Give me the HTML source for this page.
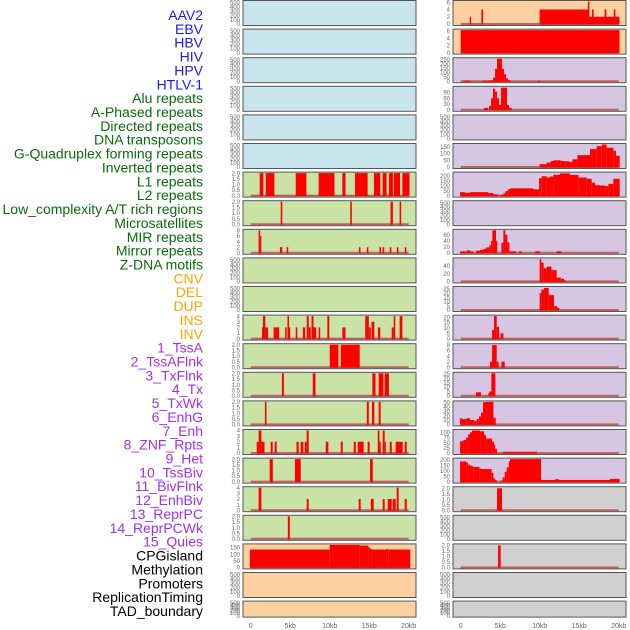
<!DOCTYPE html>
<html><head><meta charset="utf-8"><style>
body{margin:0;background:#fff;width:630px;height:630px;overflow:hidden}
svg{display:block;font-family:"Liberation Sans",sans-serif}
</style></head><body>
<svg id="c" width="630" height="630"></svg>
<script>
const labels=["AAV2","EBV","HBV","HIV","HPV","HTLV-1","Alu repeats","A-Phased repeats","Directed repeats","DNA transposons","G-Quadruplex forming repeats","Inverted repeats","L1 repeats","L2 repeats","Low_complexity A/T rich regions","Microsatellites","MIR repeats","Mirror repeats","Z-DNA motifs","CNV","DEL","DUP","INS","INV","1_TssA","2_TssAFlnk","3_TxFlnk","4_Tx","5_TxWk","6_EnhG","7_Enh","8_ZNF_Rpts","9_Het","10_TssBiv","11_BivFlnk","12_EnhBiv","13_ReprPC","14_ReprPCWk","15_Quies","CPGisland","Methylation","Promoters","ReplicationTiming","TAD_boundary"];
const labelColors=[...Array(6).fill("#1a1aee"),...Array(13).fill("#0a6a0a"),...Array(5).fill("#ffa500"),...Array(15).fill("#a030ee"),...Array(5).fill("#000")];
const xTicks=[0,5,10,15,20];
const xTickLabels=["0","5kb","10kb","15kb","20kb"];
const E=[0,100,200,300,400,500];
const T2=[0,0.5,1,1.5,2],T4=[0,1,2,3,4];
const leftBg=[...Array(6).fill("#c8e4ec"),...Array(13).fill("#c9e2a6"),...Array(3).fill("#fecf9f")];
const rightBg=["#fecf9f","#fecf9f",...Array(15).fill("#d6c6e2"),...Array(5).fill("#d0d0d0")];
const leftYMax=[520,520,520,520,520,520,2,2,8,520,520,4,2,2,2,4,2,4,2,170,520,520];
const leftTicks=[E,E,E,E,E,E,T2,T2,[0,2,4,6,8],E,E,T4,T2,T2,T2,T4,T2,T4,T2,[0,50,100,150],E,E];
const leftBars=[[],[],[],[],[],[],
[[1.14,1.6,2],[1.9,3.0,2],[5.7,7.05,2],[8.6,10.6,2],[11.6,12.0,2],[13.2,14.8,2],[15.6,16.4,2],[16.7,17.2,2],[17.5,18.0,2],[18.1,18.9,2],[19.2,20.1,2]],
[[3.8,4.0,2],[12.6,12.8,2],[17.7,18.0,2],[18.85,19.05,2]],
[[1.0,1.2,8],[1.2,1.35,6],[3.7,4.0,2],[4.55,4.75,2],[13.7,13.9,2],[14.7,14.9,2],[16.3,16.5,2],[16.7,16.9,2],[17.6,17.8,2],[18.5,18.7,2],[19.5,19.7,2]],
[],[],
[[1.43,1.55,2],[1.55,1.85,4],[1.85,2.2,2],[2.9,3.6,2],[4.35,4.55,2],[4.65,4.85,4],[4.85,5.0,2],[5.7,5.9,2],[6.6,6.9,2],[7.1,7.35,4],[7.35,7.6,2],[7.7,7.95,4],[7.95,8.3,2],[8.6,8.8,2],[9.7,9.95,4],[11.6,12.0,2],[14.5,14.95,4],[14.95,15.2,2],[15.3,15.65,3],[16.1,16.4,2],[17.85,18.1,2],[18.1,18.3,4],[18.85,19.2,4]],
[[10.0,11.1,2],[11.4,13.8,2]],
[[3.95,4.2,2],[7.85,8.2,2],[15.4,15.8,2],[16.2,16.8,2],[16.95,17.5,2]],
[[1.8,2.0,2],[14.7,14.95,2],[15.35,15.65,2],[16.2,16.45,2]],
[[0.76,1.0,2],[1.0,1.35,4],[1.35,1.75,2],[2.53,2.78,2],[3.04,3.29,2],[5.8,6.08,2],[6.33,6.67,2],[6.84,7.09,2],[7.09,7.34,4],[9.5,9.83,2],[11.4,11.65,2],[13.04,13.3,2],[13.55,14.3,2],[14.8,15.06,2],[16.08,16.3,4],[16.3,16.46,2],[16.71,16.96,4],[16.96,17.1,2],[17.6,17.85,2],[18.35,19.24,2],[19.49,19.75,2]],
[[2.4,2.8,2],[5.6,6.33,2],[15.1,15.45,2]],
[[1.0,1.35,4],[7.09,7.34,2],[13.67,13.92,2],[15.2,15.57,2],[16.71,16.96,2],[17.34,17.85,2],[17.97,18.35,2],[18.48,18.73,4],[19.49,19.75,2]],
[[4.7,4.95,2]],
[[-0.1,10.0,135],[10.0,13.8,170],[13.8,14.9,165],[14.9,15.1,150],[15.1,15.3,140],[15.3,17.2,135],[17.2,17.4,140],[17.4,20.2,135]],
[],[]];
const rightYMax=[6.2,6.2,255,117,520,167,229,520,75,58,26.5,21,8.1,25.7,51,109,206,2.05,520,2.05,520,520];
const rightTicks=[[0,2,4,6],[0,2,4,6],[0,50,100,150,200,250],[0,30,60,90],E,[0,50,100,150],[0,50,100,150,200],E,[0,20,40,60],[0,20,40],[0,5,10,15,20,25],[0,5,10,15,20],[0,2,4,6,8],[0,5,10,15,20,25],[0,10,20,30,40,50],[0,25,50,75,100],[0,50,100,150,200],T2,E,T2,E,E];
const rightBars=[
[[1.14,1.31,2],[2.62,2.83,4],[9.99,16.2,4],[16.2,20.1,2],[16.1,16.29,6.2],[16.62,16.83,4],[18.23,18.44,4],[19.37,19.58,4]],
[[0,20.1,6.2]],
[[0.34,1.18,5],[2.74,3.59,5],[3.59,4.09,10],[4.09,4.35,40],[4.35,4.6,140],[4.6,5.23,255],[5.23,5.49,140],[5.49,5.74,80],[5.74,5.99,30],[5.99,6.33,10],[9.79,10.17,5]],
[[2.95,3.46,10],[3.59,3.84,20],[3.84,4.09,60],[4.09,4.35,110],[4.35,4.6,95],[4.6,4.85,60],[4.85,5.1,25],[5.1,5.86,115],[5.86,6.12,25],[6.12,6.45,10]],
[],
[[9.99,10.88,21],[10.88,11.39,33],[11.39,11.81,45],[11.81,12.66,50],[12.66,13.08,45],[13.08,13.71,43],[13.71,14.14,38],[14.14,14.77,57],[14.77,16.37,88],[16.37,17.22,133],[17.22,17.85,155],[17.85,18.48,167],[18.48,19.32,143],[19.32,19.66,121],[19.66,20.13,83]],
[[-0.08,0.55,35],[0.55,1.18,29],[1.18,3.5,35],[3.5,4.14,26],[4.14,4.77,13],[5.06,5.4,10],[5.4,5.65,23],[5.65,5.95,45],[5.95,6.24,64],[6.24,9.2,74],[9.2,9.92,64],[9.92,10.25,177],[10.25,10.89,197],[10.89,11.31,184],[11.31,11.73,194],[11.73,12.57,213],[12.57,13.84,226],[13.84,14.9,210],[14.9,15.95,184],[15.95,16.58,171],[16.58,17.0,132],[17.0,17.64,106],[17.64,18.27,103],[18.27,18.69,97],[18.69,19.32,119],[19.32,20.13,171]],
[],
[[-0.08,0.76,5],[0.76,1.18,8],[1.18,1.6,5],[1.94,2.45,7],[2.45,2.87,10],[2.87,3.21,13],[3.21,3.63,18],[3.63,3.84,25],[3.84,4.01,40],[4.01,4.47,75],[4.47,4.6,40],[5.15,5.4,33],[5.4,5.65,75],[5.65,5.91,60],[5.91,6.16,35],[6.16,7.0,5],[7.38,7.72,5],[9.45,10.04,5],[12.15,12.74,5]],
[[9.99,10.2,57],[10.2,10.5,48],[10.5,10.88,34],[10.88,11.48,38],[11.48,11.65,30],[11.65,12.15,29],[12.15,12.66,10],[12.66,13.08,7],[13.08,13.29,3]],
[[9.99,10.2,20],[10.2,10.55,24],[10.55,11.14,26],[11.14,11.81,17.5],[11.81,12.24,4.5],[12.24,12.49,2.6]],
[[3.97,4.22,8],[4.22,4.56,21],[4.56,4.85,11],[4.85,5.06,0.6],[5.06,5.4,5]],
[[3.71,3.97,2],[3.97,4.56,8],[4.56,4.81,2],[5.15,5.57,2]],
[[1.94,2.57,4],[3.5,3.63,3],[3.63,3.88,5],[3.88,4.39,25.7]],
[[-0.08,0.17,14],[0.17,0.76,12],[0.76,1.18,14],[1.18,1.73,10],[1.73,2.03,8],[2.03,2.32,12],[2.32,2.57,18],[2.57,2.83,27],[2.83,3.08,50],[3.08,4.14,51],[4.14,4.43,15]],
[[-0.08,0.34,57],[0.34,0.68,63],[0.68,0.93,74],[0.93,1.18,90],[1.18,1.43,100],[1.43,2.45,109],[2.45,2.95,105],[2.95,3.21,88],[3.21,3.97,70],[3.97,4.22,55],[4.22,4.35,40],[4.35,4.6,20],[5.32,9.66,6]],
[[-0.08,0.68,185],[0.68,0.93,175],[0.93,1.18,155],[1.18,1.43,145],[1.43,1.6,140],[1.6,2.36,135],[2.36,2.57,120],[2.57,3.92,115],[3.92,4.14,80],[4.14,4.35,30],[4.35,4.56,15],[5.06,5.32,10],[5.32,5.57,40],[5.57,5.82,90],[5.82,6.08,130],[6.08,6.24,185],[6.24,10.17,206],[10.17,11.94,15],[11.94,12.45,22],[12.45,18.9,15],[18.9,20.13,25]],
[[4.6,5.23,2]],
[],
[[4.73,5.06,2]],
[],[]];

const NS="http://www.w3.org/2000/svg";
const svg=document.getElementById("c");
function mk(tag,attrs,parent){const e=document.createElementNS(NS,tag);for(const k in attrs)e.setAttribute(k,attrs[k]);(parent||svg).appendChild(e);return e;}
const cols=[{px:243,pw:173,x0:250.7,bg:leftBg,ym:leftYMax,tk:leftTicks,bars:leftBars,name:"left"},
            {px:453,pw:173,x0:460.7,bg:rightBg,ym:rightYMax,tk:rightTicks,bars:rightBars,name:"right"}];
const kbPx=7.9;
function panelTop(i){return 0.5+i*28.6;}
function panelH(i){return i===21?16:25;}
function fmt(v,arr){return arr.some(t=>t%1!==0)?v.toFixed(1):String(v);}

labels.forEach((t,i)=>{
  const el=mk("text",{x:203,y:15+i*13.86+5,"text-anchor":"end","font-size":"14",fill:labelColors[i]});
  
  
  el.textContent=t;
});

cols.forEach(c=>{
  const xs=kb=>c.x0+kb*kbPx;
  for(let i=0;i<22;i++){
    const top=panelTop(i),h=panelH(i),bot=top+h;
    const g=mk("g",{});
    
    
    const bg=mk("rect",{x:c.px,y:top,width:c.pw,height:h,fill:c.bg[i]},g);
    
    
    const y0=bot-1.5,ph=h-2.5,ymax=c.ym[i];
    const ys=v=>y0-v/ymax*ph;
    const bars=c.bars[i];
    if(bars.length){
      const bl=mk("line",{x1:xs(0),x2:xs(20),y1:bot-1.5,y2:bot-1.5,stroke:"#c46060","stroke-width":2},g);
      
      
    }
    bars.forEach(b=>{
      const yt=Math.max(ys(b[2]),top+0.5);
      const r=mk("rect",{x:xs(b[0]),y:yt,width:Math.max(xs(b[1])-xs(b[0]),1.2),height:Math.max(y0-yt,0.6)+0.5,fill:"#ff0000"},g);
      
      
    });
    mk("rect",{x:c.px,y:top,width:c.pw,height:h,fill:"none",stroke:"#555","stroke-width":1},g);
    c.tk[i].forEach(t=>{
      const lbl=mk("text",{x:c.px-3,y:ys(t)+2.2,"text-anchor":"end","font-size":"6",fill:"#666"},g);
      
      
      lbl.textContent=fmt(t,c.tk[i]);
    });
  }
  xTicks.forEach((t,k)=>{
    const l=mk("text",{x:xs(t),y:628,"text-anchor":"middle","font-size":"7",fill:"#666"});
    
    
    l.textContent=xTickLabels[k];
  });
});
</script>
</body></html>
